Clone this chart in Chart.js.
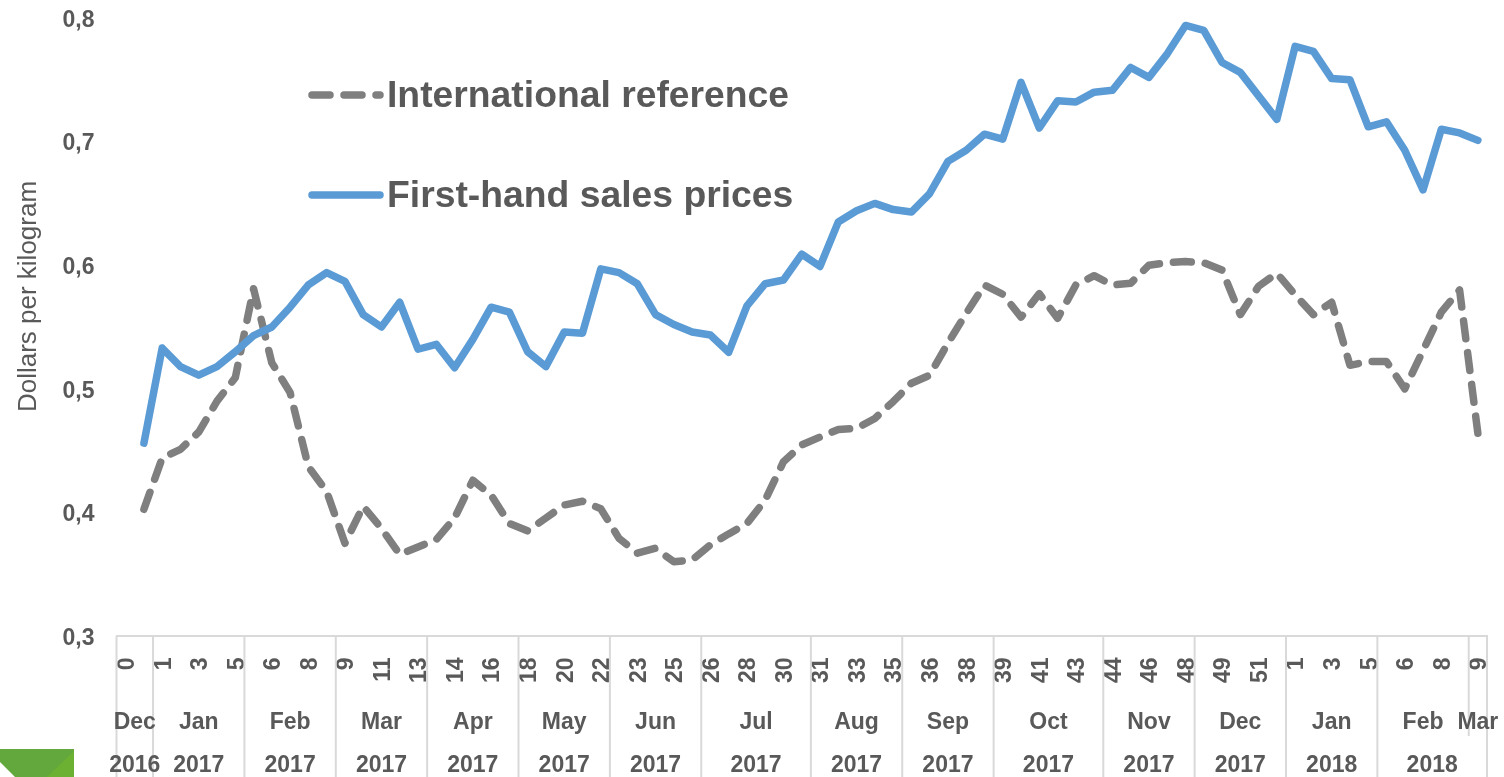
<!DOCTYPE html>
<html>
<head>
<meta charset="utf-8">
<style>html,body{margin:0;padding:0;background:#fff;overflow:hidden}canvas{display:block}</style>
<script src="https://cdn.jsdelivr.net/npm/chart.js@4"></script>
</head>
<body>
<canvas id="c" width="1504" height="777"></canvas>
<script>
const weekLabels = ['0','','1','','3','','5','','6','','8','','9','','11','','13','','14','','16','','18','','20','','22','','23','','25','','26','','28','','30','','31','','33','','35','','36','','38','','39','','41','','43','','44','','46','','48','','49','','51','','1','','3','','5','','6','','8','','9'];
const monthLabels = ['Dec','Jan','Feb','Mar','Apr','May','Jun','Jul','Aug','Sep','Oct','Nov','Dec','Jan','Feb','Mar'];
const monthSpans  = [2,5,5,5,5,5,5,6,5,5,6,5,5,5,5,1];
const yearLabels  = ['2016','2017','2017','2017','2017','2017','2017','2017','2017','2017','2017','2017','2017','2018','2018'];
const yearSpans   = [2,5,5,5,5,5,5,6,5,5,6,5,5,5,6];
const yTickValues = [0.3,0.4,0.5,0.6,0.7,0.8];
const internationalReference = [null,
 .4025,.444,.451,.465,.490,.509,.581,.521,.497,.437,.417,.375,.405,.387,.366,.372,.378,.3955,.426,.414,.391,.385,.3955,
 .406,.409,.403,.379,.367,.371,.360,.3615,.3737,.3826,.391,.410,.441,.4546,.461,.467,.468,.476,.4896,.5045,.511,
 .537,.561,.584,.5765,.558,.577,.557,.584,.5915,.584,.5854,.600,.602,.603,.602,.596,.560,.583,.5935,.576,.560,.570,
 .519,.522,.522,.500,.531,.562,.580,.464];
const firstHandPrices = [null,
 .456,.533,.518,.511,.518,.530,.543,.550,.566,.584,.594,.587,.560,.550,.570,.532,.536,.517,.540,.566,.562,.530,.518,
 .546,.545,.597,.594,.585,.560,.552,.546,.5435,.5295,.567,.585,.588,.609,.599,.635,.644,.650,.645,.643,.658,
 .684,.693,.706,.702,.748,.711,.733,.732,.740,.7415,.760,.752,.771,.794,.790,.764,.756,.737,.718,.777,.773,.751,.750,
 .712,.716,.693,.661,.710,.707,.701];

const TEXT = '#595959', AXIS = '#D9D9D9', GREY = '#7F7F7F', BLUE = '#5B9BD5';
const FONT = '"Liberation Sans", Arial, sans-serif';

const decor = {
  id: 'decor',
  beforeDraw(chart) {
    const g = chart.ctx, H = chart.height;
    // nudge the axes' own tick labels onto the reference's optical centres
    if (!chart.$nudged) {
      chart.$nudged = true;
      chart.scales.y.getLabelItems().forEach(i => { i.options.translation[1] += 2.5; });
      chart.scales.x.getLabelItems().forEach(i => { i.options.translation[0] += 2; i.options.translation[1] += 1.5; });
    }
    g.save();
    g.fillStyle = '#62A83C';
    g.beginPath(); g.moveTo(0,749); g.lineTo(74,749); g.lineTo(74,H); g.lineTo(15,H); g.lineTo(0,762); g.closePath(); g.fill();
    g.fillStyle = '#6CB132';
    g.beginPath(); g.moveTo(74,751); g.lineTo(74,H); g.lineTo(47,H); g.closePath(); g.fill();
    g.restore();
  },
  afterDraw(chart) {
    const g = chart.ctx, x = chart.scales.x, H = chart.height;
    const edge = i => x.getPixelForValue(0) + (i - 0.5) * (x.getPixelForValue(1) - x.getPixelForValue(0));
    const bottom = chart.chartArea.bottom;
    g.save();
    g.strokeStyle = AXIS; g.lineWidth = 2;
    const yearEdges = new Set([0]);
    let acc = 0; yearSpans.forEach(s => { acc += s; yearEdges.add(acc); });
    acc = 0;
    const line = (i, y2) => { g.beginPath(); g.moveTo(edge(i), bottom); g.lineTo(edge(i), y2); g.stroke(); };
    line(0, H);
    monthSpans.forEach(s => { acc += s; line(acc, yearEdges.has(acc) ? H : bottom + 100); });
    g.fillStyle = TEXT; g.font = 'bold 23px ' + FONT; g.textAlign = 'center'; g.textBaseline = 'middle';
    acc = 0;
    monthSpans.forEach((s, k) => { g.fillText(monthLabels[k], (edge(acc) + edge(acc + s)) / 2, bottom + 87); acc += s; });
    acc = 0;
    yearSpans.forEach((s, k) => { g.fillText(yearLabels[k], (edge(acc) + edge(acc + s)) / 2, bottom + 130); acc += s; });
    g.save();
    g.translate(29, 296.5); g.rotate(-Math.PI / 2);
    g.font = '26px ' + FONT; g.fillText('Dollars per kilogram', 0, 0);
    g.restore();
    g.lineCap = 'round'; g.lineWidth = 7.5;
    chart.data.datasets.forEach((d, k) => {
      const y = 95 + k * 100;
      g.strokeStyle = d.borderColor;
      g.setLineDash(d.borderDash || []);
      g.beginPath(); g.moveTo(312, y); g.lineTo(380, y); g.stroke();
      g.setLineDash([]);
      g.fillStyle = TEXT; g.font = 'bold 37.3px ' + FONT; g.textAlign = 'left'; g.textBaseline = 'alphabetic';
      g.fillText(d.label, 387, y + 12);
    });
    g.restore();
  }
};

new Chart(document.getElementById('c'), {
  type: 'line',
  data: {
    labels: weekLabels,
    datasets: [
      { label: 'International reference', data: internationalReference, borderColor: GREY, borderWidth: 7.5, borderDash: [18, 14], borderCapStyle: 'round', borderJoinStyle: 'round', pointRadius: 0, tension: 0, order: 2, clip: false },
      { label: 'First-hand sales prices', data: firstHandPrices, borderColor: BLUE, borderWidth: 7.5, borderCapStyle: 'round', borderJoinStyle: 'round', pointRadius: 0, tension: 0, order: 1, clip: false }
    ]
  },
  plugins: [decor],
  options: {
    responsive: false, animation: false, devicePixelRatio: 1,
    layout: { padding: { left: 0, right: 17, top: 18, bottom: 0 } },
    plugins: { legend: { display: false }, tooltip: { enabled: false } },
    scales: {
      x: {
        type: 'category', offset: true,
        grid: { display: false, drawTicks: false },
        border: { display: true, color: AXIS, width: 2 },
        ticks: { autoSkip: false, minRotation: 90, maxRotation: 90, padding: 20, color: TEXT, font: { family: FONT, size: 23, weight: 'bold' } },
        afterFit(s) { s.height = 141; s.paddingLeft = 0; s.paddingRight = 0; }
      },
      y: {
        min: 0.3, max: 0.8,
        afterBuildTicks(s) { s.ticks = yTickValues.map(v => ({ value: v })); },
        grid: { display: false, drawTicks: false },
        border: { display: false },
        ticks: { padding: 22, color: TEXT, font: { family: FONT, size: 23, weight: 'bold' }, callback: v => v.toFixed(1).replace('.', ',') },
        afterFit(s) { s.width = 116.5; s.paddingTop = 0; s.paddingBottom = 0; }
      }
    }
  }
});
</script>
</body>
</html>
